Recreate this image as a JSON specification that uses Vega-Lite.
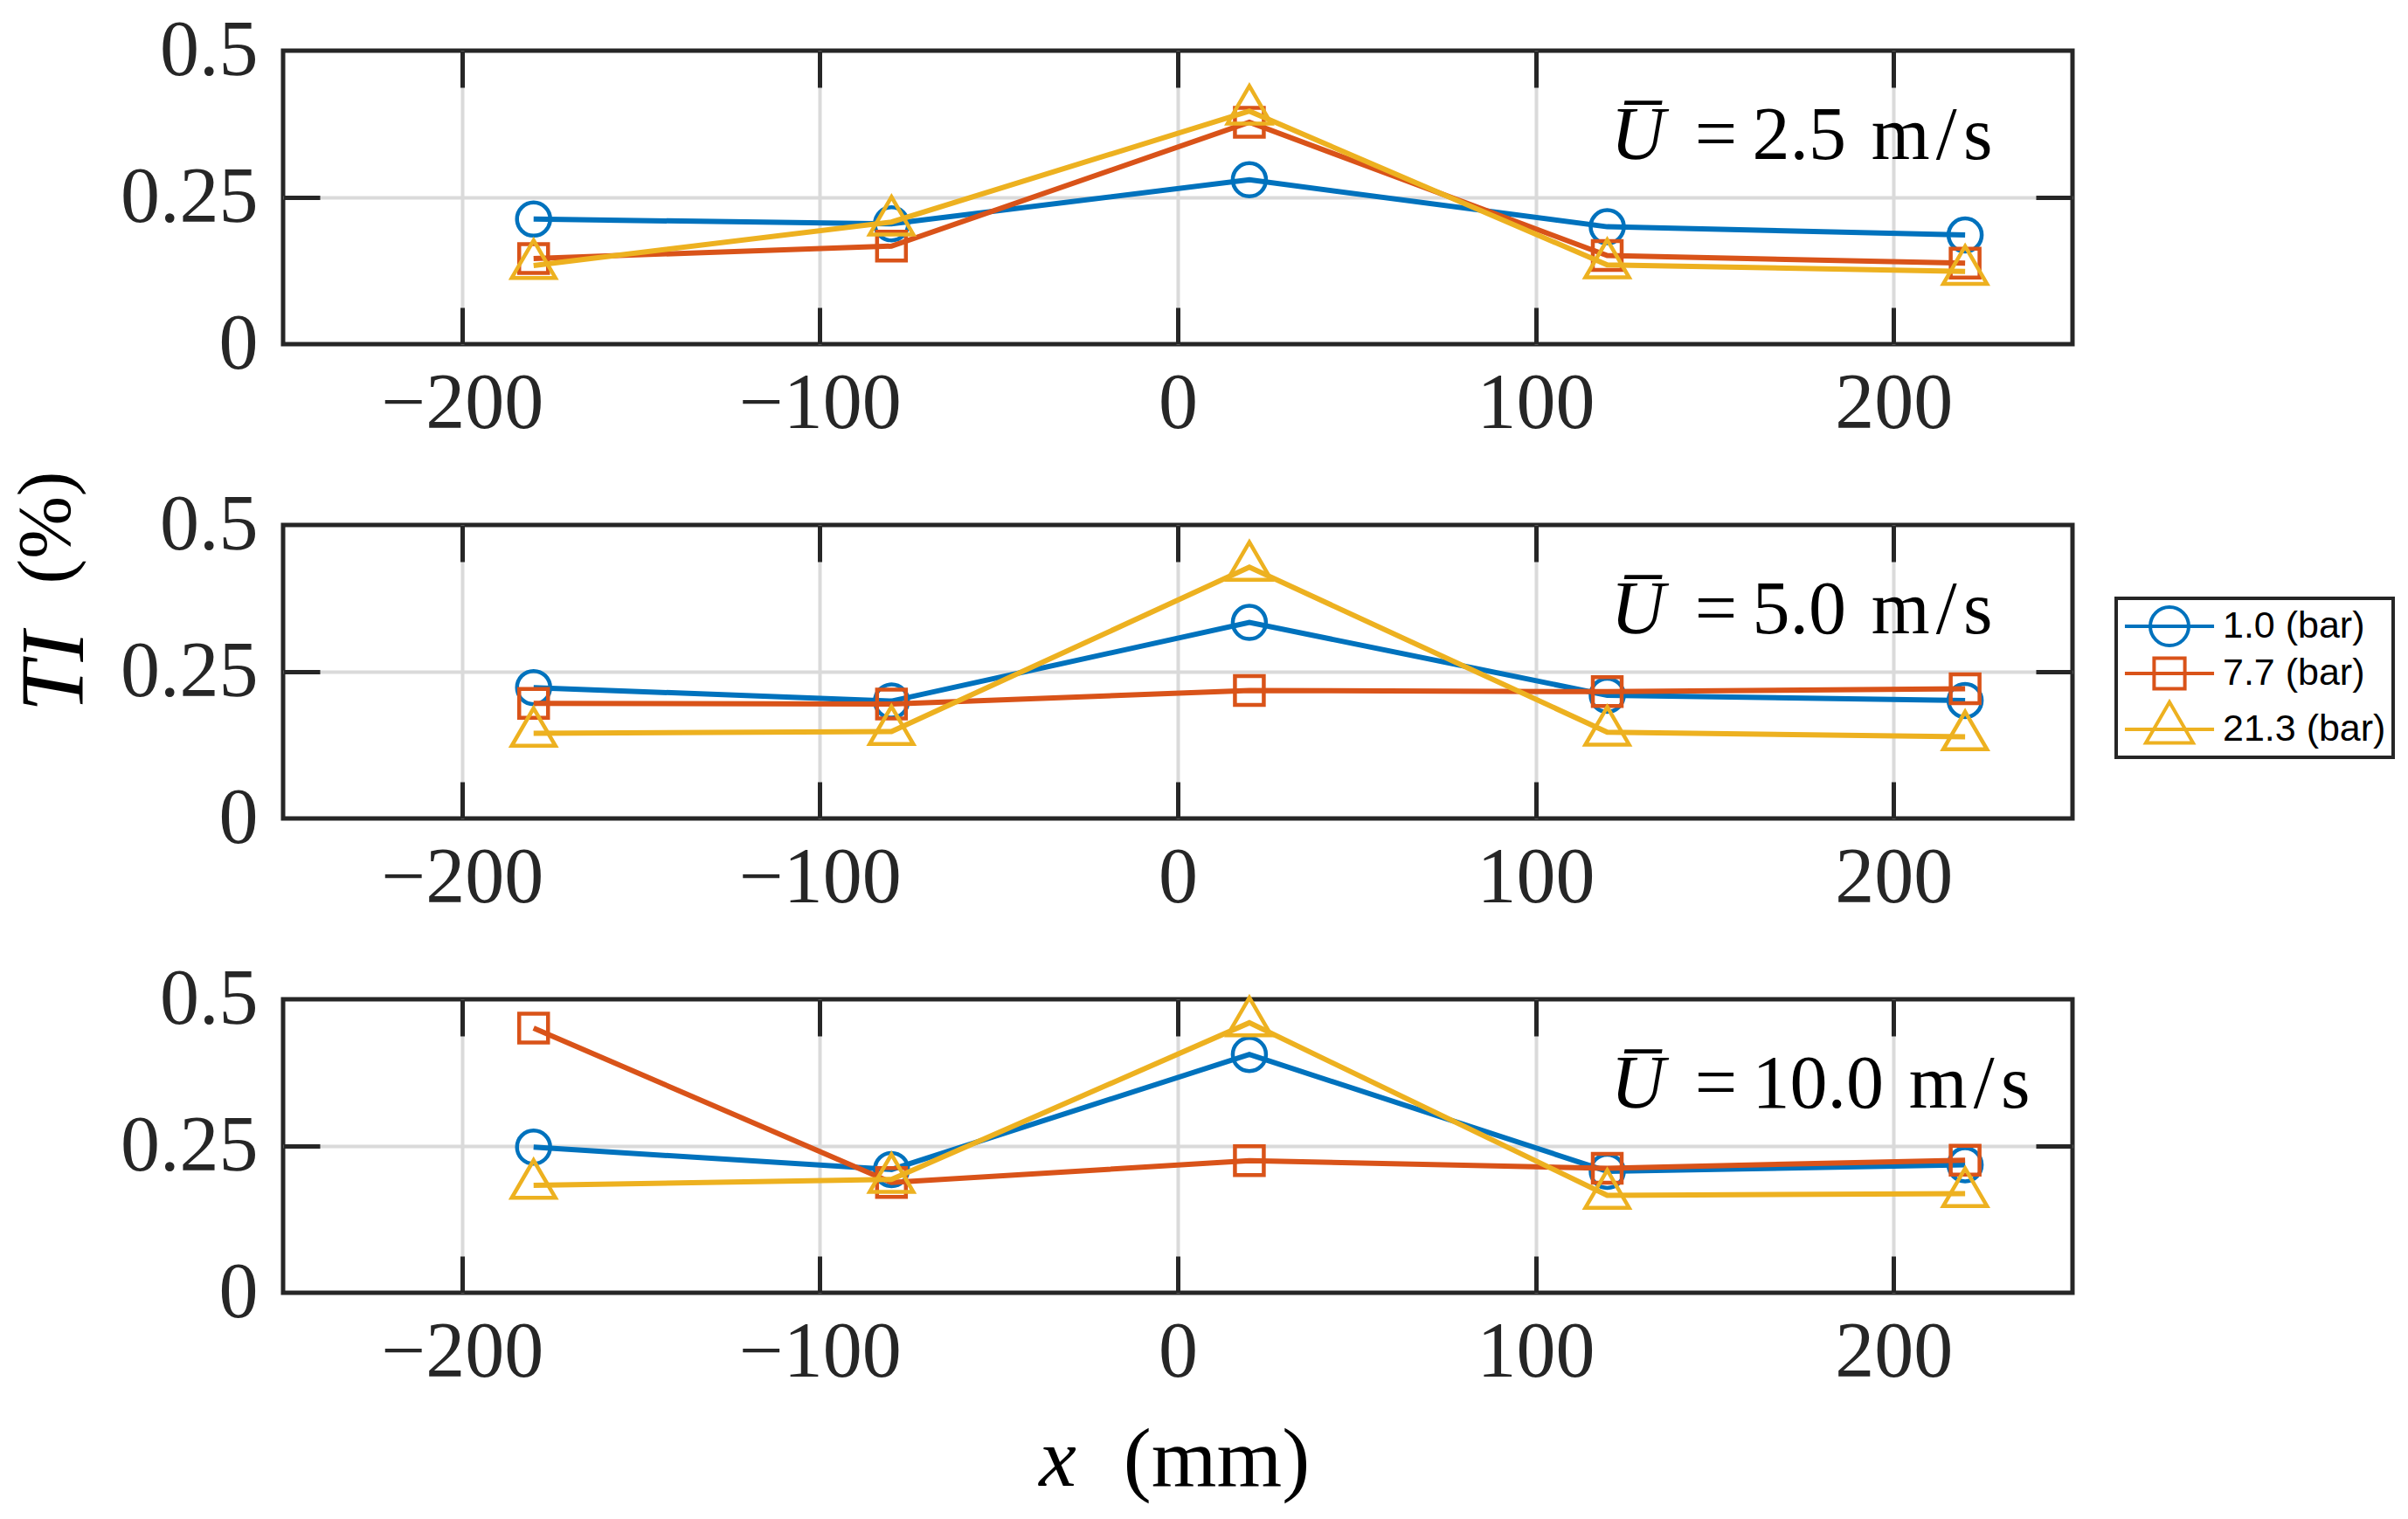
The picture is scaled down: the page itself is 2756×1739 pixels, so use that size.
{
  "$schema": "https://vega.github.io/schema/vega-lite/v6.json",
  "padding": {"left": 7, "top": 10, "right": 4, "bottom": 4},
  "background": "white",
  "config": {
    "view": {"stroke": "#262626", "strokeWidth": 5},
    "axis": {
      "labelFont": "Liberation Serif", "labelFontSize": 90, "labelColor": "#262626",
      "labelFlush": false, "labelOverlap": false, "labelLimit": 1000,
      "tickColor": "#262626", "tickWidth": 5, "tickSize": -42,
      "domain": false,
      "gridColor": "#dadada", "gridWidth": 4, "gridOpacity": 1,
      "titleFont": "Liberation Serif", "titleFontSize": 86, "titleColor": "#000", "titleFontWeight": "normal"
    },
    "legend": {
      "title": null, "strokeColor": "#262626", "strokeWidth": 4, "padding": 8, "fillColor": "white",
      "labelFont": "Liberation Sans", "labelFontSize": 43, "labelColor": "#000", "labelLimit": 1000,
      "symbolSize": 1936, "symbolStrokeWidth": 4, "symbolOffset": 29, "labelOffset": 37, "rowPadding": -2
    }
  },
  "datasets": {
    "ti": [
      {"panel": "2.5", "p": "1.0 (bar)", "x": -180, "ti": 0.213},
      {"panel": "2.5", "p": "1.0 (bar)", "x": -80, "ti": 0.205},
      {"panel": "2.5", "p": "1.0 (bar)", "x": 20, "ti": 0.280},
      {"panel": "2.5", "p": "1.0 (bar)", "x": 120, "ti": 0.200},
      {"panel": "2.5", "p": "1.0 (bar)", "x": 220, "ti": 0.186},
      {"panel": "2.5", "p": "7.7 (bar)", "x": -180, "ti": 0.146},
      {"panel": "2.5", "p": "7.7 (bar)", "x": -80, "ti": 0.167},
      {"panel": "2.5", "p": "7.7 (bar)", "x": 20, "ti": 0.378},
      {"panel": "2.5", "p": "7.7 (bar)", "x": 120, "ti": 0.151},
      {"panel": "2.5", "p": "7.7 (bar)", "x": 220, "ti": 0.138},
      {"panel": "2.5", "p": "21.3 (bar)", "x": -180, "ti": 0.134},
      {"panel": "2.5", "p": "21.3 (bar)", "x": -80, "ti": 0.208},
      {"panel": "2.5", "p": "21.3 (bar)", "x": 20, "ti": 0.397},
      {"panel": "2.5", "p": "21.3 (bar)", "x": 120, "ti": 0.135},
      {"panel": "2.5", "p": "21.3 (bar)", "x": 220, "ti": 0.124},
      {"panel": "5.0", "p": "1.0 (bar)", "x": -180, "ti": 0.223},
      {"panel": "5.0", "p": "1.0 (bar)", "x": -80, "ti": 0.200},
      {"panel": "5.0", "p": "1.0 (bar)", "x": 20, "ti": 0.334},
      {"panel": "5.0", "p": "1.0 (bar)", "x": 120, "ti": 0.210},
      {"panel": "5.0", "p": "1.0 (bar)", "x": 220, "ti": 0.201},
      {"panel": "5.0", "p": "7.7 (bar)", "x": -180, "ti": 0.196},
      {"panel": "5.0", "p": "7.7 (bar)", "x": -80, "ti": 0.195},
      {"panel": "5.0", "p": "7.7 (bar)", "x": 20, "ti": 0.218},
      {"panel": "5.0", "p": "7.7 (bar)", "x": 120, "ti": 0.216},
      {"panel": "5.0", "p": "7.7 (bar)", "x": 220, "ti": 0.221},
      {"panel": "5.0", "p": "21.3 (bar)", "x": -180, "ti": 0.145},
      {"panel": "5.0", "p": "21.3 (bar)", "x": -80, "ti": 0.148},
      {"panel": "5.0", "p": "21.3 (bar)", "x": 20, "ti": 0.428},
      {"panel": "5.0", "p": "21.3 (bar)", "x": 120, "ti": 0.147},
      {"panel": "5.0", "p": "21.3 (bar)", "x": 220, "ti": 0.139},
      {"panel": "10.0", "p": "1.0 (bar)", "x": -180, "ti": 0.248},
      {"panel": "10.0", "p": "1.0 (bar)", "x": -80, "ti": 0.210},
      {"panel": "10.0", "p": "1.0 (bar)", "x": 20, "ti": 0.406},
      {"panel": "10.0", "p": "1.0 (bar)", "x": 120, "ti": 0.207},
      {"panel": "10.0", "p": "1.0 (bar)", "x": 220, "ti": 0.218},
      {"panel": "10.0", "p": "7.7 (bar)", "x": -180, "ti": 0.451},
      {"panel": "10.0", "p": "7.7 (bar)", "x": -80, "ti": 0.188},
      {"panel": "10.0", "p": "7.7 (bar)", "x": 20, "ti": 0.225},
      {"panel": "10.0", "p": "7.7 (bar)", "x": 120, "ti": 0.212},
      {"panel": "10.0", "p": "7.7 (bar)", "x": 220, "ti": 0.226},
      {"panel": "10.0", "p": "21.3 (bar)", "x": -180, "ti": 0.183},
      {"panel": "10.0", "p": "21.3 (bar)", "x": -80, "ti": 0.193},
      {"panel": "10.0", "p": "21.3 (bar)", "x": 20, "ti": 0.460},
      {"panel": "10.0", "p": "21.3 (bar)", "x": 120, "ti": 0.166},
      {"panel": "10.0", "p": "21.3 (bar)", "x": 220, "ti": 0.169}
    ],
    "notes": [
      {"panel": "2.5", "u": "U\u0305", "v": "=\u20092.5\u00a0\u200am\u200a/\u200as"},
      {"panel": "5.0", "u": "U\u0305", "v": "=\u20095.0\u00a0\u200am\u200a/\u200as"},
      {"panel": "10.0", "u": "U\u0305", "v": "=\u200910.0\u00a0\u200am\u200a/\u200as"}
    ]
  },
  "spacing": 207,
  "bounds": "flush",
  "vconcat": [
    {
      "width": 2048, "height": 336,
      "resolve": {"axis": {"x": "independent", "y": "independent"}},
      "layer": [
        {
          "data": {"name": "ti"},
          "transform": [{"filter": "datum.panel === '2.5'"}],
          "encoding": {
            "x": {"field": "x", "type": "quantitative", "scale": {"domain": [-250, 250], "nice": false},
                  "axis": {"orient": "bottom", "values": [-200, -100, 0, 100, 200], "format": "d", "ticks": false, "grid": true, "title": null, "zindex": 0, "labelPadding": 24}},
            "y": {"field": "ti", "type": "quantitative", "scale": {"domain": [0, 0.5], "nice": false},
                  "axis": {"orient": "left", "values": [0, 0.25, 0.5], "format": ".2~f", "ticks": false, "grid": false, "title": null, "zindex": 1, "labelPadding": 29}}
          },
          "layer": [
            {"transform": [{"filter": "datum.p === '1.0 (bar)'"}],
             "layer": [
               {"mark": {"type": "line", "color": "#0072BD", "strokeWidth": 6}},
               {"mark": {"type": "point", "color": "#0072BD", "shape": "M0.76,0A0.76,0.76,0,1,1,-0.76,0A0.76,0.76,0,1,1,0.76,0Z", "filled": false, "strokeWidth": 4.5, "size": 2500, "opacity": 1}}]},
            {"transform": [{"filter": "datum.p === '7.7 (bar)'"}],
             "layer": [
               {"mark": {"type": "line", "color": "#D95319", "strokeWidth": 6}},
               {"mark": {"type": "point", "color": "#D95319", "shape": "M-0.66,-0.66H0.66V0.66H-0.66Z", "filled": false, "strokeWidth": 4.5, "size": 2500, "opacity": 1}}]},
            {"transform": [{"filter": "datum.p === '21.3 (bar)'"}],
             "layer": [
               {"mark": {"type": "line", "color": "#EDB120", "strokeWidth": 6}},
               {"mark": {"type": "point", "color": "#EDB120", "shape": "M0,-1.15L1,0.57L-1,0.57Z", "filled": false, "strokeWidth": 4.5, "size": 2500, "opacity": 1}}]},
            {"transform": [{"filter": "false"}],
             "mark": {"type": "point", "filled": false, "strokeWidth": 4, "size": 1936, "opacity": 1},
             "encoding": {
               "color": {"field": "p", "type": "nominal",
                         "scale": {"domain": ["1.0 (bar)", "7.7 (bar)", "21.3 (bar)"], "range": ["#0072BD", "#D95319", "#EDB120"]},
                         "legend": {"orient": "none", "legendX": 2098, "legendY": 627}},
               "shape": {"field": "p", "type": "nominal",
                         "scale": {"domain": ["1.0 (bar)", "7.7 (bar)", "21.3 (bar)"],
                                   "range": ["M-2.32,0H2.32M1,0A1,1,0,1,1,-1,0A1,1,0,1,1,1,0", "M-2.32,0H2.32M-0.8,-0.8H0.8V0.8H-0.8Z", "M-2.32,0H2.32M0,-1.42L1.23,0.71L-1.23,0.71Z"]},
                         "legend": {"orient": "none", "legendX": 2098, "legendY": 627}}
             }}
          ]
        },
        {
          "data": {"name": "notes"},
          "transform": [{"filter": "datum.panel === '2.5'"}],
          "mark": {"type": "text", "align": "left", "baseline": "alphabetic", "font": "Liberation Serif", "fontSize": 86, "color": "#000"},
          "encoding": {
            "x": {"datum": 144.5, "type": "quantitative", "scale": {"domain": [-250, 250], "nice": false},
                  "axis": {"orient": "top", "values": [-200, -100, 0, 100, 200], "labels": false, "grid": false, "title": null, "zindex": 1}},
            "y": {"datum": 0.315, "type": "quantitative", "scale": {"domain": [0, 0.5], "nice": false},
                  "axis": {"orient": "right", "values": [0.25], "labels": false, "grid": true, "title": null, "zindex": 0}},
            "text": {"field": "v"}
          }
        },
        {
          "data": {"name": "notes"},
          "transform": [{"filter": "datum.panel === '2.5'"}],
          "mark": {"type": "text", "align": "left", "baseline": "alphabetic", "font": "Liberation Serif", "fontStyle": "italic", "fontSize": 86, "color": "#000"},
          "encoding": {
            "x": {"datum": 121, "type": "quantitative", "scale": {"domain": [-250, 250], "nice": false},
                  "axis": {"orient": "bottom", "values": [-200, -100, 0, 100, 200], "labels": false, "grid": false, "title": null, "zindex": 1}},
            "y": {"datum": 0.315, "type": "quantitative", "scale": {"domain": [0, 0.5], "nice": false},
                  "axis": {"orient": "left", "values": [0.25], "labels": false, "grid": false, "title": null, "zindex": 1}},
            "text": {"field": "u"}
          }
        }
      ]
    },
    {
      "width": 2048, "height": 336,
      "resolve": {"axis": {"x": "independent", "y": "independent"}},
      "layer": [
        {
          "data": {"name": "ti"},
          "transform": [{"filter": "datum.panel === '5.0'"}],
          "encoding": {
            "x": {"field": "x", "type": "quantitative", "scale": {"domain": [-250, 250], "nice": false},
                  "axis": {"orient": "bottom", "values": [-200, -100, 0, 100, 200], "format": "d", "ticks": false, "grid": true, "title": null, "zindex": 0, "labelPadding": 24}},
            "y": {"field": "ti", "type": "quantitative", "scale": {"domain": [0, 0.5], "nice": false},
                  "axis": {"orient": "left", "values": [0, 0.25, 0.5], "format": ".2~f", "ticks": false, "grid": false, "zindex": 1, "labelPadding": 29,
                           "title": "TI", "titleFontStyle": "italic", "titleFontSize": 104, "titleX": -230, "titleY": 167.5, "titleAngle": 270, "titleBaseline": "alphabetic", "titleAlign": "center"}}
          },
          "layer": [
            {"transform": [{"filter": "datum.p === '1.0 (bar)'"}],
             "layer": [
               {"mark": {"type": "line", "color": "#0072BD", "strokeWidth": 6}},
               {"mark": {"type": "point", "color": "#0072BD", "shape": "M0.76,0A0.76,0.76,0,1,1,-0.76,0A0.76,0.76,0,1,1,0.76,0Z", "filled": false, "strokeWidth": 4.5, "size": 2500, "opacity": 1}}]},
            {"transform": [{"filter": "datum.p === '7.7 (bar)'"}],
             "layer": [
               {"mark": {"type": "line", "color": "#D95319", "strokeWidth": 6}},
               {"mark": {"type": "point", "color": "#D95319", "shape": "M-0.66,-0.66H0.66V0.66H-0.66Z", "filled": false, "strokeWidth": 4.5, "size": 2500, "opacity": 1}}]},
            {"transform": [{"filter": "datum.p === '21.3 (bar)'"}],
             "layer": [
               {"mark": {"type": "line", "color": "#EDB120", "strokeWidth": 6}},
               {"mark": {"type": "point", "color": "#EDB120", "shape": "M0,-1.15L1,0.57L-1,0.57Z", "filled": false, "strokeWidth": 4.5, "size": 2500, "opacity": 1}}]}
          ]
        },
        {
          "data": {"name": "notes"},
          "transform": [{"filter": "datum.panel === '5.0'"}],
          "mark": {"type": "text", "align": "left", "baseline": "alphabetic", "font": "Liberation Serif", "fontSize": 86, "color": "#000"},
          "encoding": {
            "x": {"datum": 144.5, "type": "quantitative", "scale": {"domain": [-250, 250], "nice": false},
                  "axis": {"orient": "top", "values": [-200, -100, 0, 100, 200], "labels": false, "grid": false, "title": null, "zindex": 1}},
            "y": {"datum": 0.315, "type": "quantitative", "scale": {"domain": [0, 0.5], "nice": false},
                  "axis": {"orient": "right", "values": [0.25], "labels": false, "grid": true, "title": null, "zindex": 0}},
            "text": {"field": "v"}
          }
        },
        {
          "data": {"name": "notes"},
          "transform": [{"filter": "datum.panel === '5.0'"}],
          "mark": {"type": "text", "align": "left", "baseline": "alphabetic", "font": "Liberation Serif", "fontStyle": "italic", "fontSize": 86, "color": "#000"},
          "encoding": {
            "x": {"datum": 121, "type": "quantitative", "scale": {"domain": [-250, 250], "nice": false},
                  "axis": {"orient": "bottom", "values": [-200, -100, 0, 100, 200], "labels": false, "grid": false, "title": null, "zindex": 1}},
            "y": {"datum": 0.315, "type": "quantitative", "scale": {"domain": [0, 0.5], "nice": false},
                  "axis": {"orient": "left", "values": [0.25], "labels": false, "grid": false, "zindex": 1,
                           "title": "(%)", "titleX": -245, "titleY": 2.5, "titleAngle": 270, "titleBaseline": "alphabetic", "titleAlign": "center"}},
            "text": {"field": "u"}
          }
        }
      ]
    },
    {
      "width": 2048, "height": 336,
      "resolve": {"axis": {"x": "independent", "y": "independent"}},
      "layer": [
        {
          "data": {"name": "ti"},
          "transform": [{"filter": "datum.panel === '10.0'"}],
          "encoding": {
            "x": {"field": "x", "type": "quantitative", "scale": {"domain": [-250, 250], "nice": false},
                  "axis": {"orient": "bottom", "values": [-200, -100, 0, 100, 200], "format": "d", "ticks": false, "grid": true, "zindex": 0, "labelPadding": 24,
                           "title": "x", "titleFontStyle": "italic", "titleFontSize": 96, "titleX": 886, "titleY": 220, "titleBaseline": "alphabetic", "titleAlign": "center"}},
            "y": {"field": "ti", "type": "quantitative", "scale": {"domain": [0, 0.5], "nice": false},
                  "axis": {"orient": "left", "values": [0, 0.25, 0.5], "format": ".2~f", "ticks": false, "grid": false, "title": null, "zindex": 1, "labelPadding": 29}}
          },
          "layer": [
            {"transform": [{"filter": "datum.p === '1.0 (bar)'"}],
             "layer": [
               {"mark": {"type": "line", "color": "#0072BD", "strokeWidth": 6}},
               {"mark": {"type": "point", "color": "#0072BD", "shape": "M0.76,0A0.76,0.76,0,1,1,-0.76,0A0.76,0.76,0,1,1,0.76,0Z", "filled": false, "strokeWidth": 4.5, "size": 2500, "opacity": 1}}]},
            {"transform": [{"filter": "datum.p === '7.7 (bar)'"}],
             "layer": [
               {"mark": {"type": "line", "color": "#D95319", "strokeWidth": 6}},
               {"mark": {"type": "point", "color": "#D95319", "shape": "M-0.66,-0.66H0.66V0.66H-0.66Z", "filled": false, "strokeWidth": 4.5, "size": 2500, "opacity": 1}}]},
            {"transform": [{"filter": "datum.p === '21.3 (bar)'"}],
             "layer": [
               {"mark": {"type": "line", "color": "#EDB120", "strokeWidth": 6}},
               {"mark": {"type": "point", "color": "#EDB120", "shape": "M0,-1.15L1,0.57L-1,0.57Z", "filled": false, "strokeWidth": 4.5, "size": 2500, "opacity": 1}}]}
          ]
        },
        {
          "data": {"name": "notes"},
          "transform": [{"filter": "datum.panel === '10.0'"}],
          "mark": {"type": "text", "align": "left", "baseline": "alphabetic", "font": "Liberation Serif", "fontSize": 86, "color": "#000"},
          "encoding": {
            "x": {"datum": 144.5, "type": "quantitative", "scale": {"domain": [-250, 250], "nice": false},
                  "axis": {"orient": "top", "values": [-200, -100, 0, 100, 200], "labels": false, "grid": false, "title": null, "zindex": 1}},
            "y": {"datum": 0.315, "type": "quantitative", "scale": {"domain": [0, 0.5], "nice": false},
                  "axis": {"orient": "right", "values": [0.25], "labels": false, "grid": true, "title": null, "zindex": 0}},
            "text": {"field": "v"}
          }
        },
        {
          "data": {"name": "notes"},
          "transform": [{"filter": "datum.panel === '10.0'"}],
          "mark": {"type": "text", "align": "left", "baseline": "alphabetic", "font": "Liberation Serif", "fontStyle": "italic", "fontSize": 86, "color": "#000"},
          "encoding": {
            "x": {"datum": 121, "type": "quantitative", "scale": {"domain": [-250, 250], "nice": false},
                  "axis": {"orient": "bottom", "values": [-200, -100, 0, 100, 200], "labels": false, "grid": false, "zindex": 1,
                           "title": "(mm)", "titleFontSize": 96, "titleX": 1068, "titleY": 220, "titleBaseline": "alphabetic", "titleAlign": "center"}},
            "y": {"datum": 0.315, "type": "quantitative", "scale": {"domain": [0, 0.5], "nice": false},
                  "axis": {"orient": "left", "values": [0.25], "labels": false, "grid": false, "title": null, "zindex": 1}},
            "text": {"field": "u"}
          }
        }
      ]
    }
  ]
}
